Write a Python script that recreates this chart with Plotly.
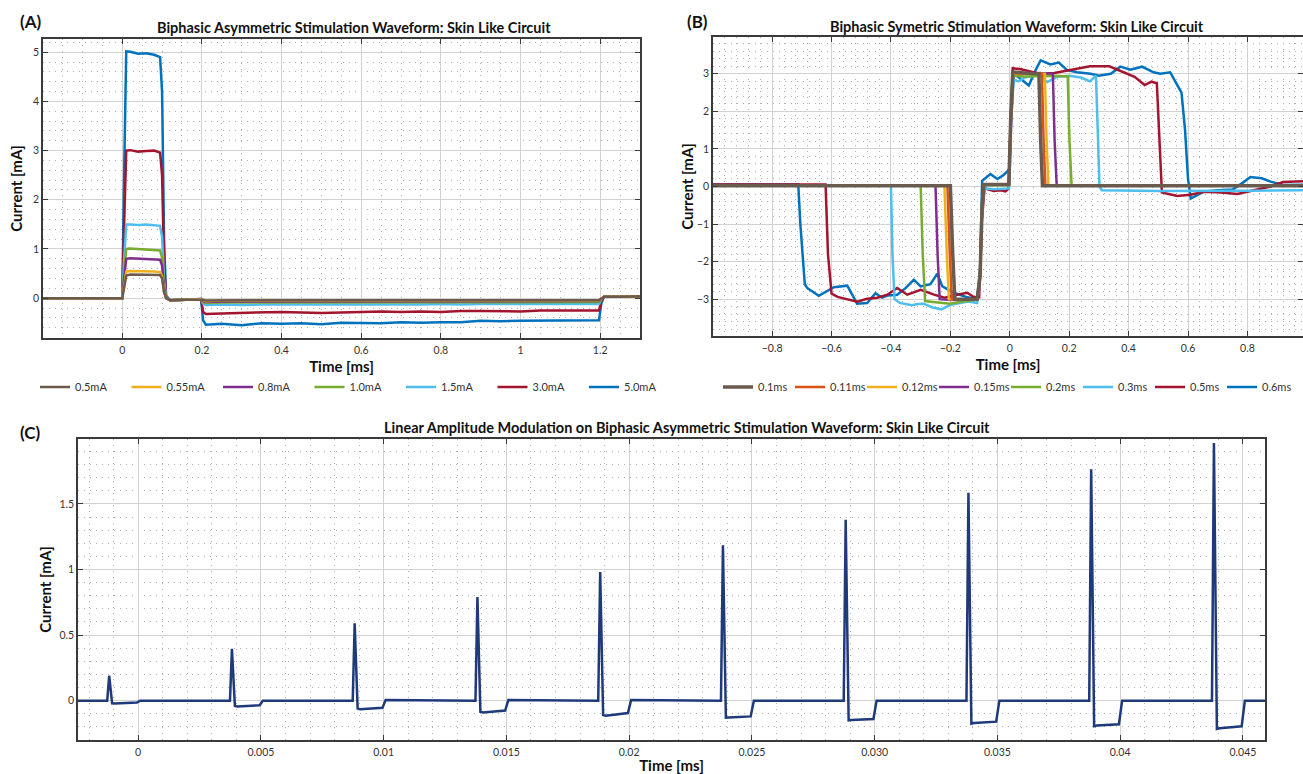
import plotly.graph_objects as go

W, H = 1303, 774
FONT = "Lato"

# ---------------- Panel A data ----------------
tA = [-0.2, 0.0, 0.004, 0.01, 0.02, 0.04, 0.06, 0.08, 0.095, 0.1, 0.105, 0.11, 0.12, 0.16, 0.198,
      0.203, 0.21, 0.25, 0.3, 0.35, 0.4, 0.45, 0.5, 0.55, 0.6, 0.65, 0.7, 0.75, 0.8, 0.85,
      0.9, 0.95, 1.0, 1.05, 1.1, 1.15, 1.197, 1.203, 1.21, 1.25, 1.3]
a_5_0 = [0.0, 0.0, 2.2, 5.02, 5.01, 4.97, 4.98, 4.95, 4.9, 4.2, 1.2, 0.05, -0.04, -0.03, -0.02,
         -0.45, -0.54, -0.52, -0.55, -0.51, -0.52, -0.51, -0.53, -0.5, -0.5, -0.51, -0.49, -0.5, -0.49, -0.49,
         -0.46, -0.47, -0.46, -0.46, -0.45, -0.45, -0.45, -0.1, 0.03, 0.04, 0.04]
a_3_0 = [0.0, 0.0, 1.3, 3.0, 3.01, 2.98, 2.99, 3.0, 2.96, 2.5, 0.7, 0.03, -0.04, -0.03, -0.02,
         -0.28, -0.32, -0.31, -0.3, -0.29, -0.28, -0.29, -0.3, -0.29, -0.28, -0.27, -0.28, -0.27, -0.28, -0.26,
         -0.26, -0.27, -0.27, -0.25, -0.25, -0.25, -0.25, -0.05, 0.03, 0.04, 0.04]
a_1_5 = [0.0, 0.0, 0.7, 1.5, 1.5, 1.49, 1.5, 1.49, 1.47, 1.25, 0.35, 0.02, -0.04, -0.03, -0.02,
         -0.11, -0.14, -0.13, -0.14, -0.13, -0.13, -0.13, -0.14, -0.13, -0.13, -0.13, -0.13, -0.13, -0.12, -0.13,
         -0.12, -0.12, -0.12, -0.12, -0.12, -0.12, -0.12, -0.02, 0.03, 0.03, 0.04]
a_1_0 = [0.0, 0.0, 0.45, 1.0, 1.01, 1.0, 0.99, 0.98, 0.97, 0.82, 0.25, 0.01, -0.04, -0.03, -0.02,
         -0.08, -0.1, -0.09, -0.09, -0.09, -0.09, -0.09, -0.09, -0.09, -0.09, -0.09, -0.09, -0.09, -0.09, -0.08,
         -0.08, -0.08, -0.08, -0.08, -0.08, -0.08, -0.08, -0.01, 0.03, 0.03, 0.04]
a_0_8 = [0.0, 0.0, 0.35, 0.8, 0.81, 0.8, 0.8, 0.79, 0.78, 0.66, 0.2, 0.01, -0.04, -0.03, -0.02,
         -0.06, -0.08, -0.07, -0.07, -0.07, -0.07, -0.07, -0.07, -0.07, -0.07, -0.07, -0.07, -0.07, -0.07, -0.07,
         -0.06, -0.06, -0.06, -0.06, -0.06, -0.06, -0.06, -0.01, 0.03, 0.03, 0.04]
a_0_55 = [0.0, 0.0, 0.22, 0.54, 0.55, 0.55, 0.55, 0.54, 0.53, 0.45, 0.14, 0.0, -0.04, -0.03, -0.02,
          -0.04, -0.06, -0.05, -0.05, -0.05, -0.05, -0.05, -0.05, -0.05, -0.05, -0.05, -0.05, -0.05, -0.05, -0.05,
          -0.05, -0.05, -0.05, -0.05, -0.05, -0.05, -0.05, -0.01, 0.03, 0.03, 0.04]
a_0_5 = [0.0, 0.0, 0.18, 0.46, 0.48, 0.48, 0.48, 0.47, 0.47, 0.4, 0.12, 0.0, -0.04, -0.03, -0.02,
         -0.03, -0.05, -0.04, -0.04, -0.04, -0.04, -0.04, -0.04, -0.04, -0.04, -0.04, -0.04, -0.04, -0.04, -0.04,
         -0.04, -0.04, -0.04, -0.04, -0.04, -0.04, -0.04, -0.01, 0.03, 0.03, 0.04]
A_names = ["0.5mA", "0.55mA", "0.8mA", "1.0mA", "1.5mA", "3.0mA", "5.0mA"]
A_values = [a_0_5, a_0_55, a_0_8, a_1_0, a_1_5, a_3_0, a_5_0]
A_colors = ["#6B5A4E", "#EDB120", "#7E2F8E", "#77AC30", "#4DBEEE", "#A2142F", "#0072BD"]

# ---------------- Panel B data ----------------
tB_01 = [-1.0, -0.5, -0.2, -0.192, -0.185, -0.15, -0.11, -0.1, -0.093, -0.087, -0.05, -0.003, 0.003, 0.01, 0.05,
         0.098, 0.104, 0.11, 0.5, 1.0]
vB_01 = [0.02, 0.02, 0.02, -1.8, -3.0, -3.0, -3.0, -2.4, -0.5, 0.05, 0.05, 0.05, 1.8, 3.05, 3.02,
         3.0, 1.2, 0.02, 0.02, 0.02]
tB_011 = [-1.0, -0.21, -0.202, -0.195, -0.15, -0.11, -0.1, -0.093, -0.087, -0.05, -0.003, 0.003, 0.01, 0.05,
          0.108, 0.114, 0.12, 1.0]
vB_011 = [0.02, 0.02, -1.8, -3.0, -3.0, -3.0, -2.4, -0.5, 0.05, 0.05, 0.05, 1.8, 3.02, 3.0,
          3.0, 1.2, 0.02, 0.02]
tB_012 = [-1.0, -0.22, -0.212, -0.205, -0.15, -0.11, -0.1, -0.093, -0.087, -0.05, -0.003, 0.003, 0.01, 0.05,
          0.118, 0.124, 0.13, 1.0]
vB_012 = [0.02, 0.02, -1.8, -3.0, -3.0, -3.0, -2.4, -0.5, 0.05, 0.05, 0.05, 1.8, 3.0, 3.0,
          3.0, 1.2, 0.02, 0.02]
tB_015 = [-1.0, -0.25, -0.243, -0.236, -0.2, -0.15, -0.11, -0.1, -0.093, -0.087, -0.05, -0.003, 0.003, 0.01,
          0.05, 0.1, 0.145, 0.151, 0.158, 1.0]
vB_015 = [0.02, 0.02, -1.8, -3.0, -3.02, -3.0, -3.0, -2.4, -0.5, 0.05, 0.05, 0.05, 1.8, 3.0,
          3.0, 3.02, 3.0, 1.2, 0.02, 0.02]
tB_02 = [-1.0, -0.3, -0.293, -0.285, -0.25, -0.22, -0.2, -0.15, -0.11, -0.1, -0.093, -0.087, -0.05, -0.003,
         0.003, 0.01, 0.05, 0.1, 0.15, 0.195, 0.201, 0.208, 1.0]
vB_02 = [0.02, 0.02, -1.8, -3.05, -3.08, -3.1, -3.12, -3.05, -3.02, -2.4, -0.5, 0.03, 0.03, 0.03,
         1.7, 2.95, 2.93, 2.95, 2.95, 2.93, 1.2, 0.03, 0.03]
tB_03 = [-1.0, -0.4, -0.395, -0.388, -0.37, -0.35, -0.33, -0.31, -0.29, -0.26, -0.23, -0.2, -0.17, -0.14,
         -0.11, -0.1, -0.093, -0.087, -0.05, -0.003, 0.003, 0.01, 0.03, 0.05, 0.08, 0.1, 0.126, 0.16, 0.2,
         0.24, 0.27, 0.29, 0.296, 0.302, 0.31, 0.5, 0.8, 1.0]
vB_03 = [0.02, 0.02, -1.8, -3.0, -3.1, -3.12, -3.16, -3.13, -3.12, -3.22, -3.27, -3.15, -3.1, -3.06,
         -3.1, -2.4, -0.6, -0.05, -0.07, -0.05, 1.7, 2.85, 2.8, 2.9, 2.95, 2.95, 2.78, 2.92, 2.95,
         2.9, 2.8, 2.95, 1.5, 0.0, -0.1, -0.12, -0.11, -0.1]
tB_05 = [-1.0, -0.62, -0.612, -0.6, -0.58, -0.547, -0.514, -0.48, -0.446, -0.412, -0.379, -0.345, -0.3,
         -0.255, -0.22, -0.177, -0.143, -0.12, -0.103, -0.095, -0.085, -0.054, -0.03, -0.014, -0.004,
         0.003, 0.01, 0.038, 0.06, 0.1, 0.15, 0.2, 0.27, 0.335, 0.38, 0.42, 0.454, 0.477, 0.495, 0.503,
         0.512, 0.564, 0.608, 0.653, 0.71, 0.766, 0.82, 0.878, 0.92, 0.97, 1.0]
vB_05 = [0.05, 0.05, -1.8, -2.85, -2.94, -3.0, -3.07, -2.99, -2.96, -2.88, -2.7, -2.88, -2.75,
         -2.88, -2.96, -2.88, -2.83, -2.95, -2.95, -1.0, -0.05, -0.12, -0.1, -0.13, -0.05,
         1.5, 3.15, 3.12, 3.08, 3.0, 3.02, 3.1, 3.2, 3.2, 3.06, 2.92, 2.7, 2.79, 2.75, 1.2,
         -0.16, -0.25, -0.22, -0.14, -0.16, -0.2, -0.1, 0.0, 0.12, 0.14, 0.14]
tB_06 = [-1.0, -0.712, -0.705, -0.69, -0.682, -0.643, -0.592, -0.547, -0.514, -0.48, -0.452, -0.43, -0.41,
         -0.379, -0.35, -0.323, -0.3, -0.267, -0.244, -0.227, -0.188, -0.143, -0.11, -0.1, -0.093,
         -0.065, -0.042, -0.022, -0.008, 0.0, 0.005, 0.014, 0.036, 0.064, 0.087, 0.104, 0.137, 0.165,
         0.193, 0.227, 0.272, 0.3, 0.34, 0.372, 0.406, 0.445, 0.484, 0.507, 0.54, 0.56, 0.578, 0.59,
         0.6, 0.609, 0.653, 0.7, 0.75, 0.779, 0.81, 0.848, 0.878, 0.92, 1.0]
vB_06 = [0.05, 0.05, -1.0, -2.6, -2.7, -2.91, -2.68, -2.64, -3.12, -3.1, -2.84, -2.96, -2.9,
         -2.88, -2.7, -2.48, -2.66, -2.6, -2.32, -2.66, -2.83, -2.95, -3.0, -2.2, 0.15,
         0.33, 0.2, 0.3, 0.4, 0.5, 1.8, 3.0, 2.87, 2.69, 3.1, 3.36, 3.25, 3.3,
         3.1, 3.04, 3.0, 2.95, 3.0, 3.19, 3.11, 3.19, 3.04, 3.0, 3.04, 2.77, 2.5, 1.5,
         0.2, -0.32, -0.14, -0.1, -0.08, 0.07, 0.25, 0.22, 0.13, 0.04, 0.05]
B_names = ["0.1ms", "0.11ms", "0.12ms", "0.15ms", "0.2ms", "0.3ms", "0.5ms", "0.6ms"]
B_times = [tB_01, tB_011, tB_012, tB_015, tB_02, tB_03, tB_05, tB_06]
B_values = [vB_01, vB_011, vB_012, vB_015, vB_02, vB_03, vB_05, vB_06]
B_colors = ["#6B5A4E", "#D95319", "#EDB120", "#7E2F8E", "#77AC30", "#4DBEEE", "#A2142F", "#0072BD"]

# ---------------- Panel C data ----------------
tC = [-0.00245,
      -0.00126, -0.00118, -0.00106, -0.00095, -0.00005, 0.00008,
      0.00374, 0.00382, 0.00394, 0.00405, 0.00495, 0.00508,
      0.00874, 0.00882, 0.00894, 0.00905, 0.00995, 0.01008,
      0.01374, 0.01382, 0.01394, 0.01405, 0.01495, 0.01508,
      0.01874, 0.01882, 0.01894, 0.01905, 0.01995, 0.02008,
      0.02374, 0.02382, 0.02394, 0.02405, 0.02495, 0.02508,
      0.02874, 0.02882, 0.02894, 0.02905, 0.02995, 0.03008,
      0.03374, 0.03382, 0.03394, 0.03405, 0.03495, 0.03508,
      0.03874, 0.03882, 0.03894, 0.03905, 0.03995, 0.04008,
      0.04374, 0.04382, 0.04394, 0.04405, 0.04495, 0.04508,
      0.0459]
vC = [0.0,
      0.0, 0.19, -0.02, -0.022, -0.015, 0.0,
      0.0, 0.395, -0.04, -0.045, -0.035, 0.0,
      0.0, 0.59, -0.06, -0.065, -0.055, 0.005,
      0.0, 0.79, -0.085, -0.09, -0.075, 0.005,
      0.0, 0.98, -0.11, -0.115, -0.095, 0.005,
      0.0, 1.185, -0.13, -0.128, -0.12, 0.0,
      0.0, 1.38, -0.15, -0.148, -0.14, 0.0,
      0.0, 1.585, -0.175, -0.17, -0.16, 0.0,
      0.0, 1.765, -0.195, -0.19, -0.18, 0.0,
      0.0, 1.965, -0.215, -0.21, -0.195, 0.0,
      0.0]
C_tickvals = [0, 0.005, 0.01, 0.015, 0.02, 0.025, 0.03, 0.035, 0.04, 0.045]
C_ticktext = ["0", "0.005", "0.01", "0.015", "0.02", "0.025", "0.030", "0.035", "0.04", "0.045"]

fig = go.Figure()

for name, vals, col in reversed(list(zip(A_names, A_values, A_colors))):
    fig.add_trace(go.Scatter(x=tA, y=vals, mode="lines", name=name, line=dict(color=col, width=2.5),
                             xaxis="x", yaxis="y", legend="legend"))

for name, ts, vals, col in reversed(list(zip(B_names, B_times, B_values, B_colors))):
    w = 3.5 if name == "0.1ms" else 2.5
    fig.add_trace(go.Scatter(x=ts, y=vals, mode="lines", name=name, line=dict(color=col, width=w),
                             xaxis="x2", yaxis="y2", legend="legend2"))

fig.add_trace(go.Scatter(x=tC, y=vC, mode="lines", name="Current", line=dict(color="#1E3A7B", width=2.5),
                         xaxis="x3", yaxis="y3", showlegend=False))


def ax(domain, rng, dtick, minor_dtick, title, standoff, **kw):
    d = dict(domain=domain, range=rng, dtick=dtick, showline=True, linecolor="#3a3a3a", linewidth=1.5,
             mirror="ticks", ticks="inside", ticklen=5, tickwidth=1.2, tickcolor="#3a3a3a",
             showgrid=True, gridcolor="#d2d2d2", gridwidth=1, zeroline=False, automargin=False,
             tickfont=dict(size=10.5, color="#333", family=FONT),
             minor=dict(dtick=minor_dtick, showgrid=True, gridcolor="#b0b0b0", griddash="1px,5px",
                        gridwidth=1, ticks=""),
             title=dict(text=title, font=dict(size=15, color="#111", family=FONT, weight="bold"),
                        standoff=standoff))
    d.update(kw)
    return d


fig.update_layout(
    width=W, height=H, autosize=False, margin=dict(l=0, r=0, t=0, b=0),
    paper_bgcolor="white", plot_bgcolor="white",
    font=dict(family=FONT, color="#222"),
    xaxis=ax([43 / W, 640 / W], [-0.199, 1.3], 0.2, 0.05, "Time [ms]", 6, anchor="y", ticklabelstandoff=2),
    yaxis=ax([1 - 338 / H, 1 - 39 / H], [-0.81, 5.27], 1, 0.2, "Current [mA]", 7, anchor="x"),
    xaxis2=ax([713 / W, 1.0], [-0.999, 0.987], 0.2, 0.04, "Time [ms]", 6, anchor="y2", ticklabelstandoff=2),
    yaxis2=ax([1 - 336 / H, 1 - 37 / H], [-3.98, 3.98], 1, 0.2, "Current [mA]", 0, anchor="x2"),
    xaxis3=ax([78 / W, 1265 / W], [-0.00245, 0.0459], None, 0.001, "Time [ms]", 3, anchor="y3",
              tickmode="array", tickvals=C_tickvals, ticktext=C_ticktext, ticklabelstandoff=2),
    yaxis3=ax([1 - 740 / H, 1 - 439 / H], [-0.3, 1.995], 0.5, 0.1, "Current [mA]", 4, anchor="x3"),
    legend=dict(orientation="h", x=35 / W, y=1 - 387 / H, xanchor="left", yanchor="middle",
                entrywidth=46.5, entrywidthmode="pixels", traceorder="reversed",
                font=dict(size=11, color="#333", family=FONT), bgcolor="rgba(0,0,0,0)"),
    legend2=dict(orientation="h", x=718 / W, y=1 - 387 / H, xanchor="left", yanchor="middle",
                 entrywidth=27, entrywidthmode="pixels", traceorder="reversed",
                 font=dict(size=11, color="#333", family=FONT), bgcolor="rgba(0,0,0,0)"),
)

annots = [
    dict(text="(A)", x=30 / W, y=1 - 22 / H),
    dict(text="(B)", x=697 / W, y=1 - 22 / H),
    dict(text="(C)", x=30 / W, y=1 - 432 / H),
]
for a in annots:
    fig.add_annotation(xref="paper", yref="paper", x=a["x"], y=a["y"], text=a["text"], showarrow=False,
                       xanchor="center", yanchor="middle",
                       font=dict(size=17, color="#111", family=FONT, weight="bold"))

titles = [
    ("Biphasic Asymmetric Stimulation Waveform: Skin Like Circuit", 354, 28),
    ("Biphasic Symetric Stimulation Waveform: Skin Like Circuit", 1017, 27),
    ("Linear Amplitude Modulation on Biphasic Asymmetric Stimulation Waveform: Skin Like Circuit", 687, 427),
]
for txt, cx, cy in titles:
    fig.add_annotation(xref="paper", yref="paper", x=cx / W, y=1 - cy / H, text=txt, showarrow=False,
                       xanchor="center", yanchor="middle",
                       font=dict(size=14.5, color="#111", family=FONT, weight="bold"))

fig.write_html("out.html",
               config={"displayModeBar": False, "responsive": False},
               post_script="document.body.style.margin='0';document.body.style.padding='0';"
                           "document.body.style.overflow='hidden';")
